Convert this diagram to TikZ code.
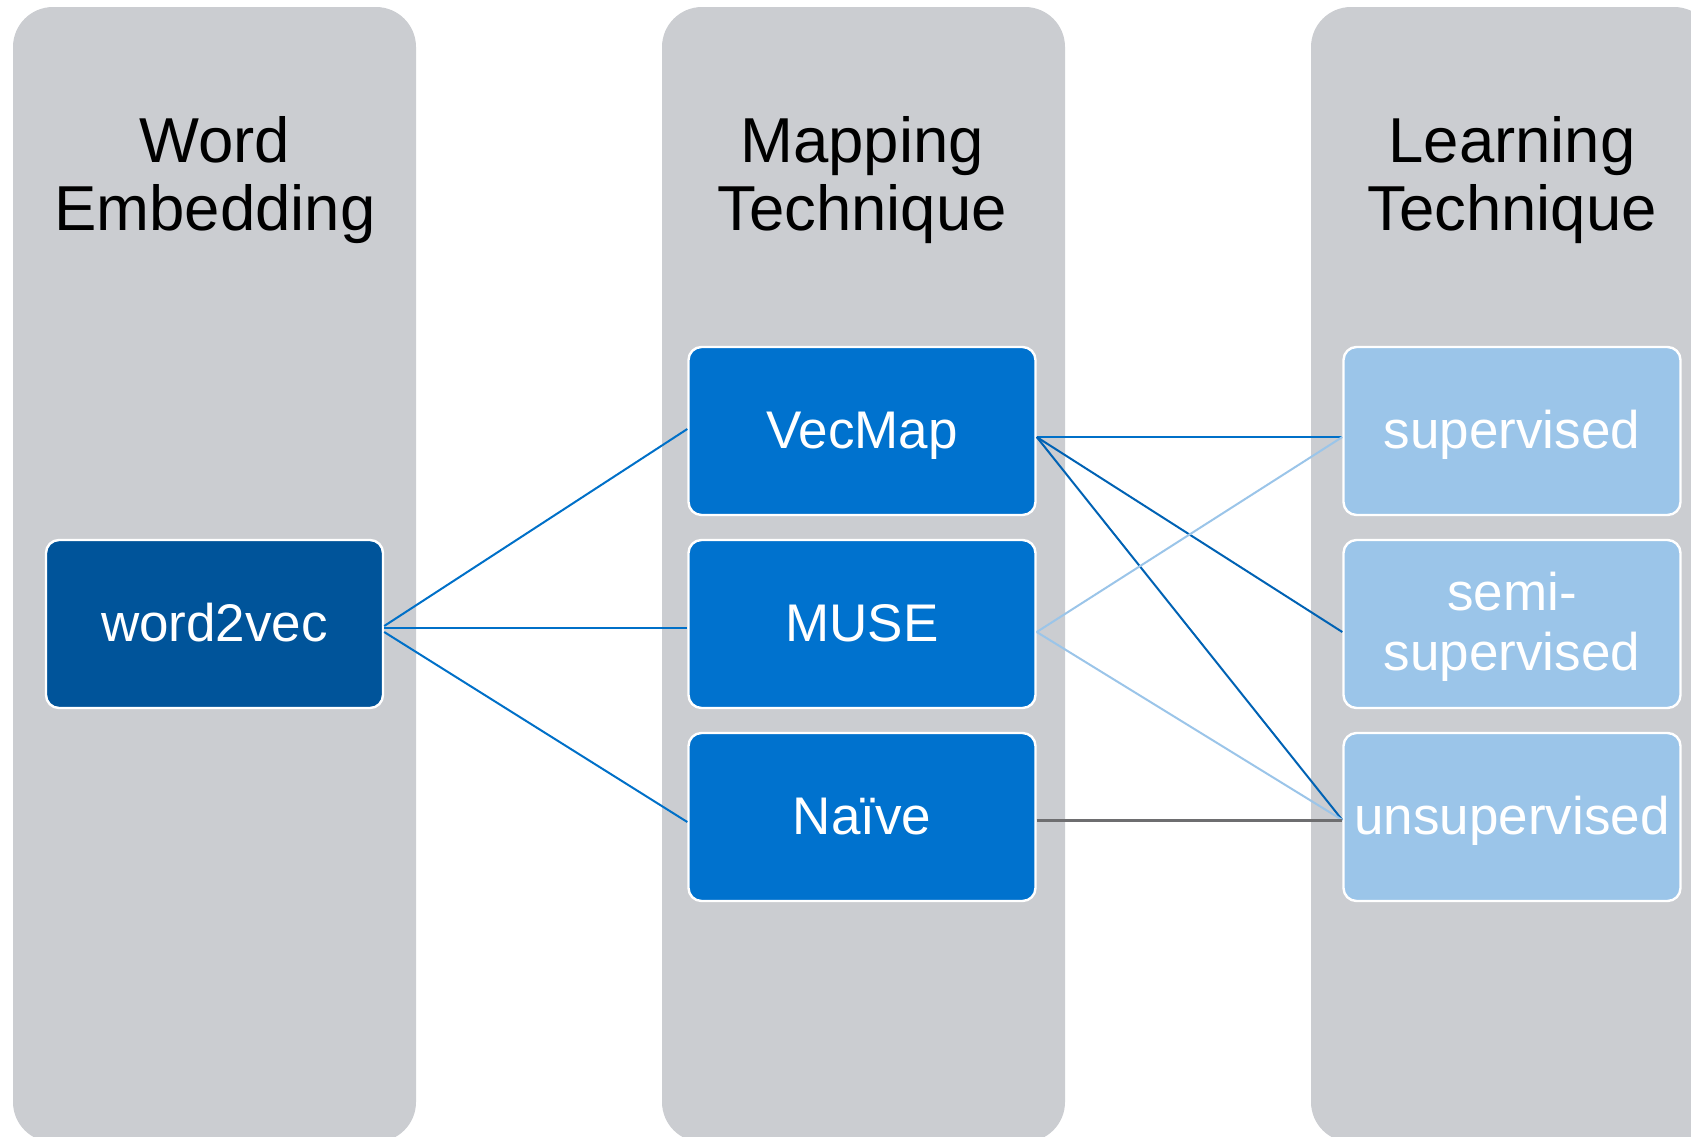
\documentclass[tikz,border=0pt]{standalone}
\usepackage{fontspec}
\setmainfont{Liberation Sans}
\definecolor{colgray}{HTML}{CBCDD1}
\definecolor{midblue}{HTML}{0072CE}
\definecolor{darkblue}{HTML}{00549A}
\definecolor{lightblue}{HTML}{9BC5E9}
\definecolor{lineblue}{HTML}{0070C8}
\definecolor{linedeep}{HTML}{0062B4}
\definecolor{linegray}{HTML}{6E6E70}
\tikzset{
  colbox/.style={fill=colgray, rounded corners=20pt},
  item/.style={draw=white, line width=1.2pt, rounded corners=6.5pt,
    minimum width=168.5pt, minimum height=84pt, inner sep=0pt,
    text height=19pt, text depth=1.5pt,
    text=white, align=center, font=\fontsize{26.5}{30}\selectfont},
  wideitem/.style={item, minimum width=173.5pt},
  title/.style={anchor=base, inner sep=0pt, font=\fontsize{31.75}{34}\selectfont},
  conn/.style={line width=1pt, draw=lineblue},
  conndeep/.style={line width=1pt, draw=linedeep},
  connlight/.style={line width=1pt, draw=lightblue},
  conngray/.style={line width=1.5pt, draw=linegray}
}
\begin{document}
\begin{tikzpicture}[x=0.5pt,y=-0.5pt]
\useasboundingbox (0,0) rectangle (1691,1136);
\clip (0,0) rectangle (1691,1136);
% columns
\fill[colbox] (13,7) rectangle (416,1142);
\fill[colbox] (662,7) rectangle (1065,1142);
\fill[colbox] (1311,7) rectangle (1714,1142);
% titles
\node[title] (t1a) at (215,162) {Word};
\node[title] (t1b) at (215,230) {Embedding};
\node[title] (t2a) at (862,162) {Mapping};
\node[title] (t2b) at (862,230) {Technique};
\node[title] (t3a) at (1512,162) {Learning};
\node[title] (t3b) at (1512,230) {Technique};
% boxes
\node[item, fill=darkblue] (w2v) at (214.5,624) {word2vec};
\node[wideitem, fill=midblue] (vec) at (862,431) {VecMap};
\node[wideitem, fill=midblue] (muse) at (862,624) {MUSE};
\node[wideitem, fill=midblue] (naive) at (862,817) {Naïve};
\node[item, fill=lightblue] (sup) at (1512,431) {supervised};
\node[item, fill=lightblue, text height=49pt, text depth=3pt] (semi) at (1512,624) {semi-\\supervised};
\node[item, fill=lightblue] (unsup) at (1512,817) {unsupervised};
% connectors left
\draw[conn] ([yshift=-1pt]w2v.east) -- ([yshift=1pt]vec.west);
\draw[conn] ([yshift=-2pt]w2v.east) -- ([yshift=-2pt]muse.west);
\draw[conn] ([yshift=-4pt]w2v.east) -- ([yshift=-2.5pt]naive.west);
% connectors right
\draw[conn] ([yshift=-3pt]vec.east) -- ([yshift=-3pt]sup.west);
\draw[conndeep] ([yshift=-3pt]vec.east) -- ([yshift=-4pt]semi.west);
\draw[conndeep] ([yshift=-3pt]vec.east) -- ([yshift=-1.5pt]unsup.west);
\draw[connlight] ([yshift=-4pt]muse.east) -- ([yshift=-3pt]sup.west);
\draw[connlight] ([yshift=-4pt]muse.east) -- ([yshift=-1.5pt]unsup.west);
\draw[conngray] ([yshift=-1.5pt]naive.east) -- ([yshift=-1.5pt]unsup.west);
\end{tikzpicture}
\end{document}
